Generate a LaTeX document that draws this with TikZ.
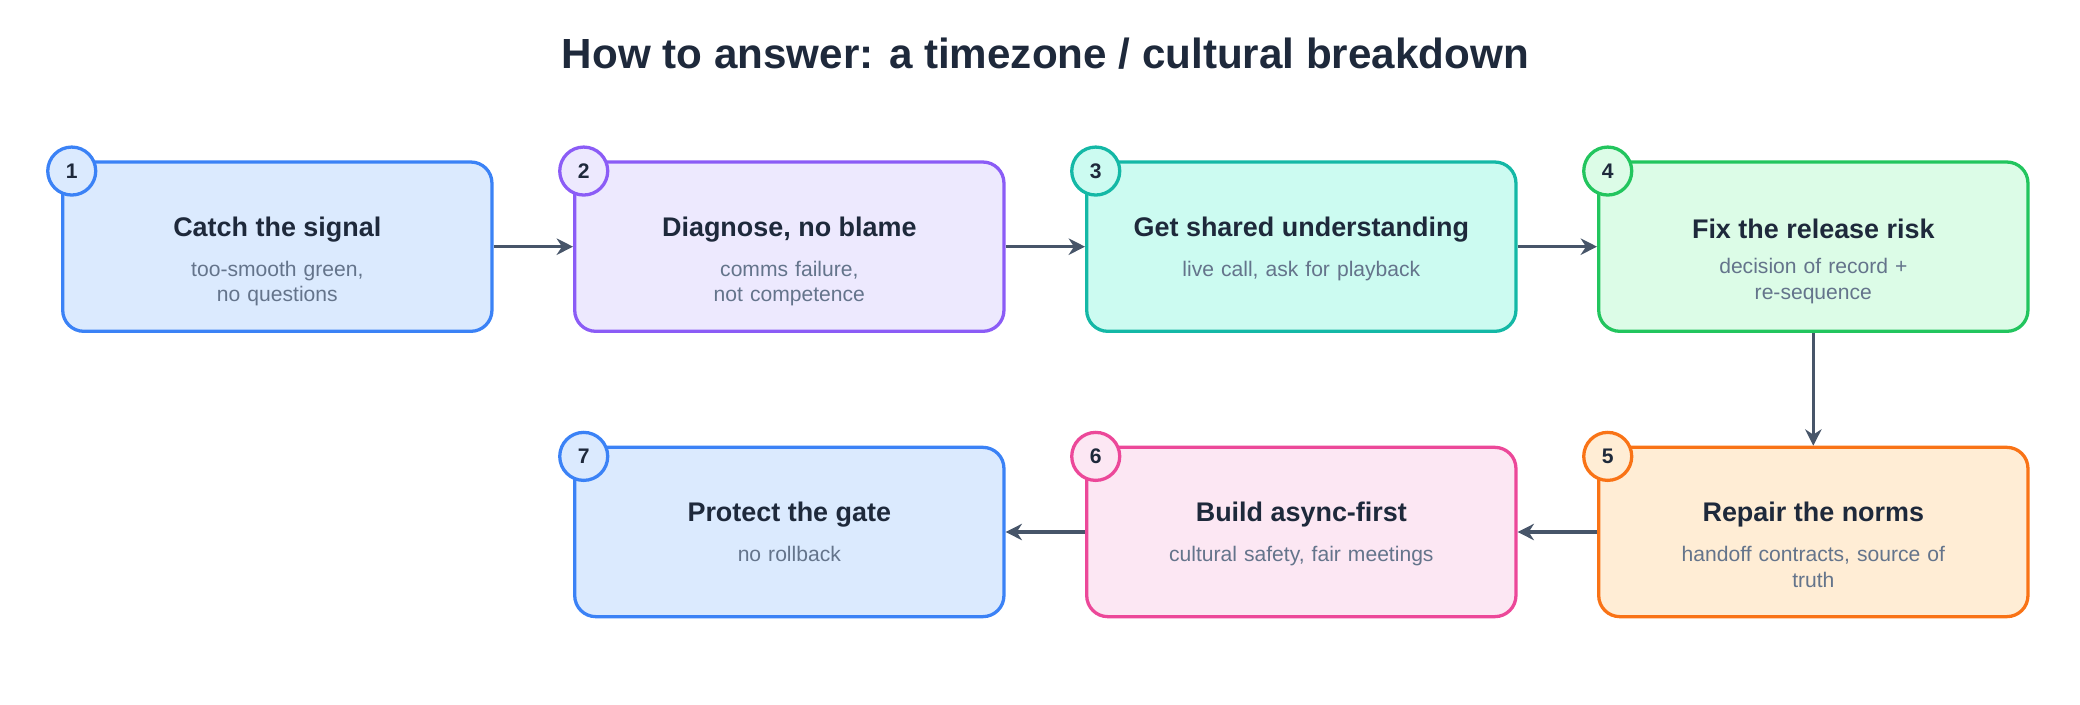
\documentclass[tikz,border=0pt]{standalone}
\usepackage{fontspec}
\setmainfont{Liberation Sans}
\usetikzlibrary{positioning,arrows.meta}
\definecolor{ink}{HTML}{1E293B}
\definecolor{subink}{HTML}{64748B}
\definecolor{arrowc}{HTML}{475569}
\definecolor{blueB}{HTML}{3B82F6}\definecolor{blueF}{HTML}{DBEAFE}
\definecolor{purpB}{HTML}{8B5CF6}\definecolor{purpF}{HTML}{EDE9FE}
\definecolor{tealB}{HTML}{14B8A6}\definecolor{tealF}{HTML}{CCFBF1}
\definecolor{grnB}{HTML}{22C55E}\definecolor{grnF}{HTML}{DCFCE7}
\definecolor{orgB}{HTML}{F97316}\definecolor{orgF}{HTML}{FFEDD5}
\definecolor{pnkB}{HTML}{EC4899}\definecolor{pnkF}{HTML}{FCE7F3}
\begin{document}
\begin{tikzpicture}[x=0.02cm,y=-0.02cm,
    step/.style={draw=#1B,fill=#1F,line width=1.4pt,rounded corners=9pt,minimum width=6.44cm,minimum height=2.54cm},
    badge/.style={draw=#1B,fill=#1F,line width=1.4pt,circle,minimum size=0.72cm,inner sep=0pt,font=\bfseries\fontsize{9}{10}\selectfont,text=ink},
    head/.style={font=\bfseries\fontsize{11.5}{13}\selectfont,text=ink},
    sub/.style={font=\fontsize{9}{11}\selectfont,text=subink,align=center,text width=4.2cm},
    flow/.style={-{Stealth[length=7pt,width=7pt]},arrowc,line width=1.5pt}
  ]
  \useasboundingbox (0,0) rectangle (1560,528);
  \node[font=\bfseries\fontsize{18}{21}\selectfont,text=ink] (title) at (784,40) {How to answer: a timezone / cultural breakdown};

  % steps: name / x / y / colour / heading / detail / heading y-offset
  \foreach \n/\x/\y/\c/\h/\d/\o in {
      s1/208/185/blue/Catch the signal/{too-smooth green, no questions}/-13,
      s2/592/185/purp/{Diagnose, no blame}/{comms failure, not competence}/-13,
      s3/976/185/teal/Get shared understanding/{live call, ask for playback}/-13,
      s4/1360/185/grn/Fix the release risk/{decision of record +\\re-sequence}/-13,
      s5/1360/399/org/Repair the norms/{handoff contracts, source of\\truth}/-13,
      s6/976/399/pnk/Build async-first/{cultural safety, fair meetings}/-13,
      s7/592/399/blue/Protect the gate/{no rollback}/-13} {
    \node[step=\c] (\n) at (\x,\y) {};
    \node[head] (\n h) at (\x,\y+\o) {\h};
    \node[sub,below=1pt of \n h] (\n d) {\d};
  }
  \foreach \n/\k/\c in {s1/1/blue,s2/2/purp,s3/3/teal,s4/4/grn,s5/5/org,s6/6/pnk,s7/7/blue}
    \node[badge=\c] (\n b) at ([xshift=0.16cm,yshift=-0.16cm]\n.north west) {\k};

  \draw[flow] (s1) -- (s2);
  \draw[flow] (s2) -- (s3);
  \draw[flow] (s3) -- (s4);
  \draw[flow] (s4) -- (s5);
  \draw[flow] (s5) -- (s6);
  \draw[flow] (s6) -- (s7);
\end{tikzpicture}
\end{document}
